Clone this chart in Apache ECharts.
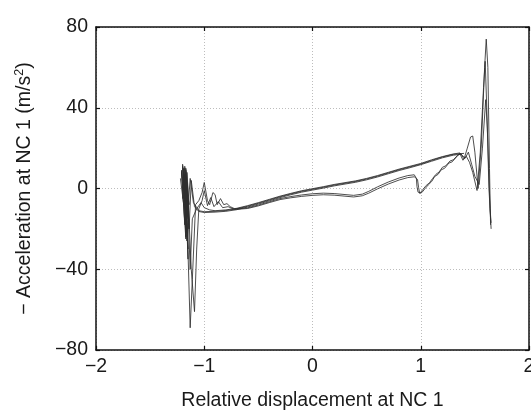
<!DOCTYPE html>
<html>
<head>
<meta charset="utf-8">
<script src="https://cdn.jsdelivr.net/npm/echarts@6/dist/echarts.min.js"></script>
<style>html,body{margin:0;padding:0;background:#fff}#c{width:531px;height:412px}</style>
</head>
<body>
<div id="c"></div>
<script>
// Tick values
var xTicks = [-2, -1, 0, 1, 2];
var yTicks = [-80, -40, 0, 40, 80];

// Rightward paths (after the left impact, through the lower branch, into the right impact)
var rise1 = [[-1.19,-5],[-1.21,9],[-1.18,-18],[-1.2,12],[-1.16,-12],[-1.19,10],[-1.17,-24],[-1.18,7],[-1.15,-30],[-1.17,6],[-1.13,-69],[-1.11,-45],[-1.08,-8],
  [-1.05,-6],[-1.02,-2],[-1.0,3],[-0.97,-6],[-0.95,-8],[-0.92,-2],[-0.9,-3],[-0.88,-8],[-0.85,-5],[-0.82,-8],[-0.79,-7.5],[-0.76,-9],[-0.72,-10],
  [-0.6,-9.6],[-0.5,-8.2],[-0.4,-6.6],[-0.3,-5.0],[-0.2,-4.0],[-0.1,-3.2],[0,-2.6],[0.1,-2.3],[0.2,-2.5],[0.3,-3.0],[0.38,-3.4],[0.46,-2.8],[0.52,-1.4],
  [0.6,0.8],[0.7,3.2],[0.8,5.2],[0.88,6.4],[0.94,6.8],[0.96,5],[0.965,1],[0.975,-1.8],[0.995,-2.2],[1.02,-0.5],[1.05,1.5],[1.08,2.8],[1.11,5],
  [1.14,7],[1.17,8.2],[1.2,10.5],[1.23,11.2],[1.27,13.6],[1.3,14.2],[1.34,16.4],[1.37,17.2],[1.4,14.6],[1.43,20],[1.46,25.5],[1.48,26],[1.5,18],
  [1.53,0],[1.56,22],[1.59,60],[1.605,74],[1.62,60],[1.635,10],[1.645,-18]];
var rise2 = [[-1.18,-3],[-1.2,11],[-1.16,-22],[-1.18,10],[-1.15,-35],[-1.17,4],[-1.14,-8],[-1.16,8],[-1.12,-40],[-1.09,-61],[-1.07,-30],[-1.05,-10],[-1.02,-6],[-1.0,-1],[-0.97,-8.5],
  [-0.94,-4.5],[-0.91,-9],[-0.87,-6.5],[-0.83,-9.5],[-0.78,-9],[-0.72,-10.4],[-0.6,-9.9],[-0.5,-8.6],[-0.4,-7.0],[-0.3,-5.5],[-0.2,-4.6],
  [-0.1,-3.9],[0,-3.4],[0.1,-3.1],[0.2,-3.3],[0.3,-3.8],[0.38,-4.2],[0.46,-3.6],[0.52,-2.3],[0.6,-0.2],[0.7,2.2],[0.8,4.2],[0.88,5.4],
  [0.94,5.8],[0.97,4.5],[0.98,0.5],[0.99,-2.4],[1.01,-2.0],[1.04,0],[1.07,1.8],[1.1,3.4],[1.13,6],[1.16,7],[1.19,9.3],[1.22,10],[1.26,12.6],
  [1.29,13.2],[1.33,15.6],[1.36,17.5],[1.39,14],[1.42,16],[1.45,13],[1.48,8],[1.52,-1],[1.55,18],[1.58,50],[1.595,63],[1.61,40],[1.63,0],[1.65,-20]];
var rise3 = [[-1.17,-4],[-1.21,8],[-1.17,-25],[-1.19,6],[-1.15,-15],[-1.17,10],[-1.14,-20],[-1.16,3],[-1.13,-40],[-1.11,-15],[-1.07,-10],[-1.03,-7],[-1.0,-9.5],[-0.95,-10.6],[-0.9,-11],
  [-0.8,-10.6],[-0.7,-9.8],[-0.6,-8.5],[-0.5,-7],[-0.4,-5.4],[-0.3,-3.8],[-0.2,-2.4],[-0.1,-1.1],[0,-0.1],[0.1,0.9],[0.2,2.0],[0.3,2.9],
  [0.4,3.8],[0.5,5],[0.6,6.4],[0.7,8],[0.8,9.6],[0.9,11],[1.0,12.4],[1.1,14.2],[1.2,15.8],[1.3,17.1],[1.36,17.6],[1.41,15],[1.44,18],
  [1.47,12],[1.5,6],[1.54,2],[1.57,20],[1.6,44],[1.615,30],[1.64,-10],[1.65,-17]];

// Leftward paths (upper branch back to the left impact)
var back1 = [[1.4,17.4],[1.3,16.9],[1.2,15.6],[1.1,13.9],[1.0,12.1],[0.9,10.7],[0.8,9.3],[0.7,7.7],[0.6,6.1],[0.5,4.7],[0.4,3.5],
  [0.3,2.6],[0.2,1.7],[0.1,0.6],[0,-0.4],[-0.1,-1.4],[-0.2,-2.7],[-0.3,-4.1],[-0.4,-5.7],[-0.5,-7.3],[-0.6,-8.8],[-0.7,-10.1],
  [-0.8,-10.9],[-0.9,-11.3],[-1.0,-11.5],[-1.05,-11],[-1.1,-7],[-1.13,5],[-1.15,-10],[-1.18,11],[-1.16,-26],[-1.19,8],[-1.2,-5]];
var back2 = [[1.38,17.0],[1.3,16.5],[1.2,15.2],[1.1,13.5],[1.0,11.8],[0.9,10.3],[0.8,8.9],[0.7,7.3],[0.6,5.7],[0.5,4.3],[0.4,3.1],
  [0.3,2.2],[0.2,1.3],[0.1,0.2],[0,-0.8],[-0.1,-1.8],[-0.2,-3.1],[-0.3,-4.5],[-0.4,-6.1],[-0.5,-7.7],[-0.6,-9.2],[-0.7,-10.5],
  [-0.8,-11.3],[-0.9,-11.7],[-1.0,-11.9],[-1.05,-11.4],[-1.09,-9],[-1.12,4],[-1.14,-20],[-1.17,9],[-1.15,-14],[-1.19,-8],[-1.22,5]];

var paths = [rise1, rise2, rise3, back1, back2];
var FONT = 'Liberation Sans, Arial, Helvetica, sans-serif';
var minus = function (v) { return String(v).replace('-', '\u2212'); };

var chart = echarts.init(document.getElementById('c'), null, {renderer: 'canvas'});
var axisLine = {show: true, onZero: false, lineStyle: {color: '#111', width: 1.5}};
var tick = {show: true, inside: true, length: 4, lineStyle: {color: '#111', width: 1.2}};
var split = {show: true, lineStyle: {color: '#bdbdbd', type: [1, 2], width: 1}};
var lbl = {color: '#1a1a1a', fontSize: 19.5, fontFamily: FONT, formatter: minus};

chart.setOption({
  animation: false,
  backgroundColor: '#fff',
  grid: {left: 96, right: 2, top: 27, bottom: 62, containLabel: false, outerBoundsMode: 'none'},
  xAxis: [{
    type: 'value', min: xTicks[0], max: xTicks[xTicks.length - 1], interval: 1,
    axisLine: axisLine, axisTick: tick, splitLine: split,
    axisLabel: Object.assign({margin: 7}, lbl),
    name: 'Relative displacement at NC 1', nameLocation: 'middle', nameGap: 41,
    nameTextStyle: {color: '#1a1a1a', fontSize: 19.5, fontFamily: FONT}
  }, {
    type: 'value', position: 'top', min: xTicks[0], max: xTicks[xTicks.length - 1], interval: 1,
    axisLine: axisLine, axisTick: tick, splitLine: {show: false}, axisLabel: {show: false}
  }],
  yAxis: [{
    type: 'value', min: yTicks[0], max: yTicks[yTicks.length - 1], interval: 40,
    axisLine: axisLine, axisTick: tick, splitLine: split,
    axisLabel: Object.assign({margin: 8}, lbl),
    name: '{t|\u2212 Acceleration at NC 1 (m/s}{s|2}{t|)}', nameLocation: 'middle', nameGap: 60, nameRotate: 90,
    nameTextStyle: {rich: {
      t: {color: '#1a1a1a', fontSize: 19.5, fontFamily: FONT, lineHeight: 23},
      s: {color: '#1a1a1a', fontSize: 12.5, fontFamily: FONT, verticalAlign: 'top'}
    }}
  }, {
    type: 'value', position: 'right', min: yTicks[0], max: yTicks[yTicks.length - 1], interval: 40,
    axisLine: axisLine, axisTick: tick, splitLine: {show: false}, axisLabel: {show: false}
  }],
  series: paths.map(function (p) {
    return {type: 'line', data: p, showSymbol: false, symbol: 'none', smooth: false,
      lineStyle: {color: '#2e2e2e', width: 0.85}, xAxisIndex: 0, yAxisIndex: 0};
  })
});
</script>
</body>
</html>
